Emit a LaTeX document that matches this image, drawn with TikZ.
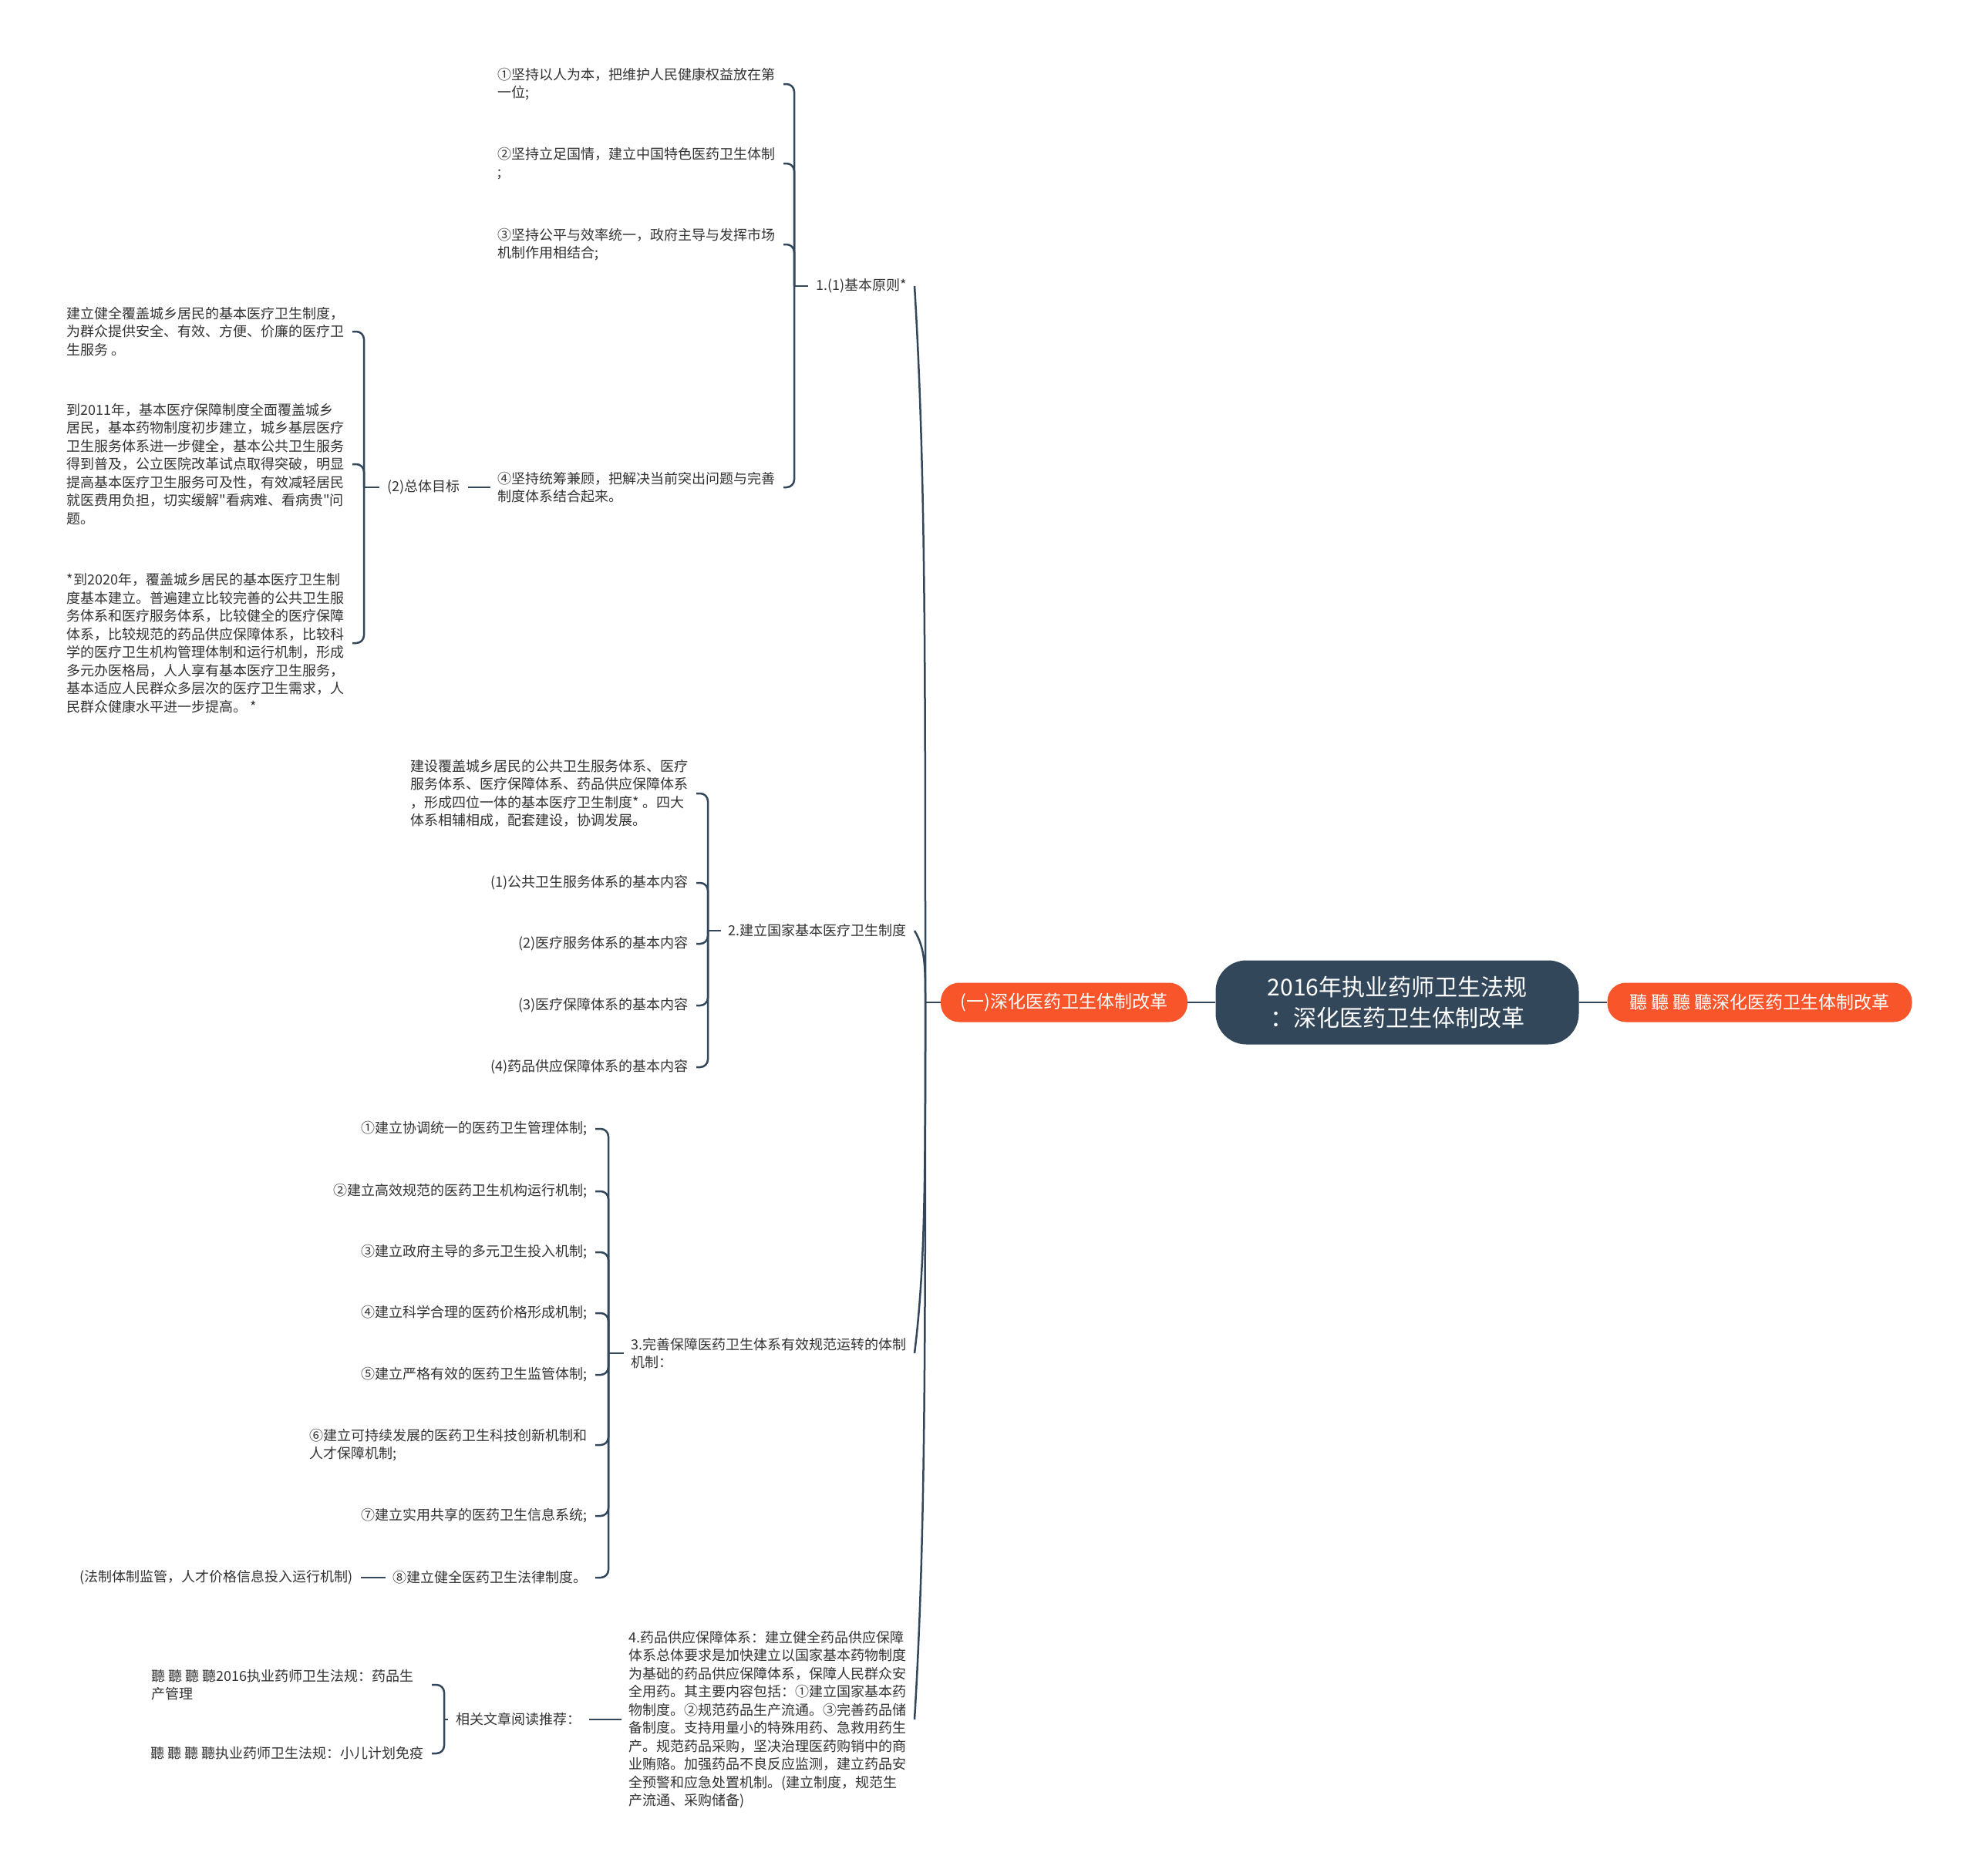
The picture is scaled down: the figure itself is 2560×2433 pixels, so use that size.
\documentclass[tikz,border=0pt]{standalone}
\usepackage{fontspec}
\newfontfamily\cjk{Noto Sans CJK SC}
\usetikzlibrary{positioning, calc}
\definecolor{slate}{HTML}{33475B}
\definecolor{flame}{HTML}{F8552A}
\definecolor{ink}{HTML}{333333}
\tikzset{
    mapview/.style={x=1pt, y=-1pt, line join=round},
    topic/.style={text=ink, align=left, inner xsep=10pt, inner ysep=2pt, font=\cjk\fontsize{18}{23.5}\selectfont},
    centre/.style={fill=slate, text=white, rounded corners=40pt, minimum width=471pt, minimum height=109pt, align=center, font=\cjk\fontsize{30}{40}\selectfont},
    mainbranch/.style={fill=flame, text=white, rounded corners=24pt, minimum height=51pt, inner xsep=0pt, font=\cjk\fontsize{23}{28}\selectfont},
    link/.style={draw=slate, line width=2.5pt},
    brace/.style={link, rounded corners=10pt},
}

\begin{document}
\begin{tikzpicture}[mapview]
    \fill[white] (0,0) rectangle (2560,2433);
    \useasboundingbox (0,0) rectangle (2560,2433);

    % centre and first level
    \node[centre]                          (root)  at (1812,1300) {2016年执业药师卫生法规\\：深化医药卫生体制改革};
    \node[mainbranch, minimum width=320pt] (lnode) at (1380,1300) {(一)深化医药卫生体制改革};
    \node[mainbranch, minimum width=395pt] (rnode) at (2282,1300) {聽 聽 聽 聽深化医药卫生体制改革};
    \coordinate (sp) at (1200,1300);

    \draw[link] (lnode) -- (root);
    \draw[link] (root) -- (rnode);

    % 1. basic principles
    \node[topic, anchor=east] (princ) at (1186,371) {1.(1)基本原则*};
    \node[topic, anchor=east] (pr1) at (1016,109) {①坚持以人为本，把维护人民健康权益放在第\\一位;};
    \node[topic, anchor=east] (pr2) at (1016,212) {②坚持立足国情，建立中国特色医药卫生体制\\;};
    \node[topic, anchor=east] (pr3) at (1016,317) {③坚持公平与效率统一，政府主导与发挥市场\\机制作用相结合;};
    \node[topic, anchor=east] (pr4) at (1016,632) {④坚持统筹兼顾，把解决当前突出问题与完善\\制度体系结合起来。};
    \coordinate (br1) at (1030,371);
    \draw[link] (br1) -- (princ);
    \foreach \n in {pr1,pr2,pr3,pr4}
        \draw[brace] (br1) |- (\n.east);

    % overall goals
    \node[topic, left=29pt of pr4] (goal) {(2)总体目标};
    \draw[link] (pr4) -- (goal);
    \node[topic, anchor=east] (go1) at (457,430) {建立健全覆盖城乡居民的基本医疗卫生制度，\\为群众提供安全、有效、方便、价廉的医疗卫\\生服务 。};
    \node[topic, anchor=east] (go2) at (457,602) {到2011年，基本医疗保障制度全面覆盖城乡\\居民，基本药物制度初步建立，城乡基层医疗\\卫生服务体系进一步健全，基本公共卫生服务\\得到普及，公立医院改革试点取得突破，明显\\提高基本医疗卫生服务可及性，有效减轻居民\\就医费用负担，切实缓解"看病难、看病贵"问\\题。};
    \node[topic, anchor=east] (go3) at (457,834) {*到2020年，覆盖城乡居民的基本医疗卫生制\\度基本建立。普遍建立比较完善的公共卫生服\\务体系和医疗服务体系，比较健全的医疗保障\\体系，比较规范的药品供应保障体系，比较科\\学的医疗卫生机构管理体制和运行机制，形成\\多元办医格局，人人享有基本医疗卫生服务，\\基本适应人民群众多层次的医疗卫生需求，人\\民群众健康水平进一步提高。 *};
    \coordinate (br2) at (472,632);
    \draw[link] (br2) -- (goal);
    \foreach \n in {go1,go2,go3}
        \draw[brace] (br2) |- (\n.east);

    % 2. basic health system
    \node[topic, anchor=east] (sysp) at (1186,1207) {2.建立国家基本医疗卫生制度};
    \node[topic, anchor=east] (sy0) at (903,1029) {建设覆盖城乡居民的公共卫生服务体系、医疗\\服务体系、医疗保障体系、药品供应保障体系\\，形成四位一体的基本医疗卫生制度* 。四大\\体系相辅相成，配套建设，协调发展。};
    \node[topic, anchor=east] (sy1) at (903,1145) {(1)公共卫生服务体系的基本内容};
    \node[topic, anchor=east] (sy2) at (903,1224) {(2)医疗服务体系的基本内容};
    \node[topic, anchor=east] (sy3) at (903,1304) {(3)医疗保障体系的基本内容};
    \node[topic, anchor=east] (sy4) at (903,1384) {(4)药品供应保障体系的基本内容};
    \coordinate (br3) at (918,1207);
    \draw[link] (br3) -- (sysp);
    \foreach \n in {sy0,sy1,sy2,sy3,sy4}
        \draw[brace] (br3) |- (\n.east);

    % 3. mechanisms
    \node[topic, anchor=east] (mech) at (1186,1755) {3.完善保障医药卫生体系有效规范运转的体制\\机制：};
    \node[topic, anchor=east] (me1) at (772,1464) {①建立协调统一的医药卫生管理体制;};
    \node[topic, anchor=east] (me2) at (772,1545) {②建立高效规范的医药卫生机构运行机制;};
    \node[topic, anchor=east] (me3) at (772,1624) {③建立政府主导的多元卫生投入机制;};
    \node[topic, anchor=east] (me4) at (772,1703) {④建立科学合理的医药价格形成机制;};
    \node[topic, anchor=east] (me5) at (772,1783) {⑤建立严格有效的医药卫生监管体制;};
    \node[topic, anchor=east] (me6) at (772,1874) {⑥建立可持续发展的医药卫生科技创新机制和\\人才保障机制;};
    \node[topic, anchor=east] (me7) at (772,1966) {⑦建立实用共享的医药卫生信息系统;};
    \node[topic, anchor=east] (me8) at (772,2046) {⑧建立健全医药卫生法律制度。};
    \node[topic, left=32pt of me8] (law) {(法制体制监管，人才价格信息投入运行机制)};
    \draw[link] (me8) -- (law);
    \coordinate (br4) at (789,1755);
    \draw[link] (br4) -- (mech);
    \foreach \n in {me1,me2,me3,me4,me5,me6,me7,me8}
        \draw[brace] (br4) |- (\n.east);

    % 4. drug supply
    \node[topic, anchor=east] (drug) at (1186,2230) {4.药品供应保障体系：建立健全药品供应保障\\体系总体要求是加快建立以国家基本药物制度\\为基础的药品供应保障体系，保障人民群众安\\全用药。其主要内容包括：①建立国家基本药\\物制度。②规范药品生产流通。③完善药品储\\备制度。支持用量小的特殊用药、急救用药生\\产。规范药品采购，坚决治理医药购销中的商\\业贿赂。加强药品不良反应监测，建立药品安\\全预警和应急处置机制。(建立制度，规范生\\产流通、采购储备)};
    \node[topic, left=42pt of drug] (rel) {相关文章阅读推荐：};
    \draw[link] (drug) -- (rel);
    \node[topic, anchor=east] (re1) at (547,2185) {聽 聽 聽 聽2016执业药师卫生法规：药品生\\产管理};
    \node[topic, anchor=east] (re2) at (560,2274) {聽 聽 聽 聽执业药师卫生法规：小儿计划免疫};
    \coordinate (br5) at (576,2230);
    \draw[link] (br5) -- (rel);
    \draw[brace] (br5) |- (re1.east -| 560,0);
    \draw[brace] (br5) |- (re2.east);

    % spine: stub from the orange branch, then one curve per topic
    \draw[link] (lnode.west) -- (sp);
    \foreach \n in {princ,sysp,mech,drug} {
        \path ($(\n.east)!0.25!(sp)$) coordinate (bend);
        \path ($(\n.east)!0.5!(sp)$) coordinate (half);
        \draw[link] (sp) .. controls (sp |- half) and (sp |- bend) .. (\n.east);
    }
\end{tikzpicture}
\end{document}
